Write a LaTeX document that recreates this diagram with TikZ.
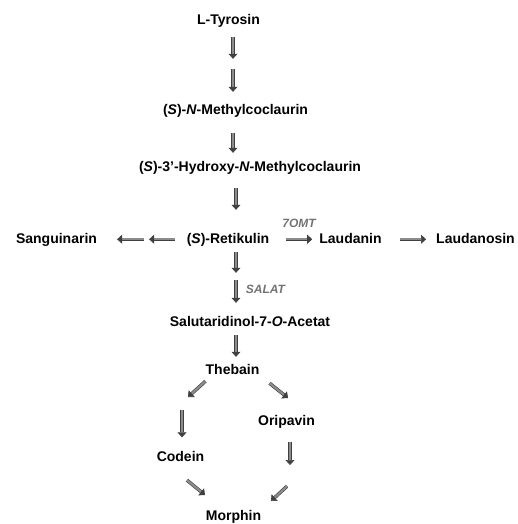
\documentclass[tikz,border=0pt]{standalone}
\usepackage{fontspec}
\setmainfont{Liberation Sans}
\usetikzlibrary{arrows.meta,calc}

\begin{document}
\begin{tikzpicture}[
    x=1pt, y=-1pt,
    compound/.style = {font=\fontsize{14}{16}\selectfont\bfseries, inner sep=0pt, anchor=base, text height=10.5pt, text depth=3pt},
    enzyme/.style = {font=\fontsize{12}{14}\selectfont\bfseries\itshape, text=black!55, inner sep=0pt},
    reaction/.style = {draw=black!75, line width=.6pt, double=black!45, double distance=2.2pt, -{Triangle[length=5pt,width=9pt]}}
    ]
    \useasboundingbox (0,0) rectangle (518,524);

    \node[compound] (tyrosin) at (228.5,25) {L-Tyrosin};
    \node[compound] (nmc) at (235.5,114) {(\textit{S})-\textit{N}-Methylcoclaurin};
    \node[compound] (hnmc) at (250,171) {(\textit{S})-3'-Hydroxy-\textit{N}-Methylcoclaurin};
    \node[compound] (retikulin) at (228,243) {(\textit{S})-Retikulin};
    \node[compound] (sanguinarin) at (56.5,243) {Sanguinarin};
    \node[compound] (laudanin) at (350.5,243) {Laudanin};
    \node[compound] (laudanosin) at (475.5,243) {Laudanosin};
    \node[compound] (acetat) at (250,326) {Salutaridinol-7-\textit{O}-Acetat};
    \node[compound] (thebain) at (232.5,374) {Thebain};
    \node[compound] (oripavin) at (286.5,425) {Oripavin};
    \node[compound] (codein) at (180.5,461) {Codein};
    \node[compound] (morphin) at (233.5,520.5) {Morphin};
    \node[enzyme] (omt) at (299,223) {7OMT};
    \node[enzyme] (salat) at (265.5,289) {SALAT};

    \coordinate (upper) at (233,0);
    \coordinate (lower) at (236,0);
    \coordinate (tc) at (188,397);
    \coordinate (cv) at (182,410);
    \coordinate (thori) at (288,398);
    \coordinate (ov) at (290,465);
    \coordinate (cm) at (205,495);
    \coordinate (om) at (271,501);

    % main path
    \draw[reaction, shorten <=9pt, shorten >=44.5pt] (tyrosin.south -| upper) -- (nmc.north -| upper);
    \draw[reaction, shorten <=41pt, shorten >=11.5pt] (tyrosin.south -| upper) -- (nmc.north -| upper);
    \draw[reaction, shorten <=16pt, shorten >=7.5pt] (nmc.south -| upper) -- (hnmc.north -| upper);
    \draw[reaction, shorten <=14pt, shorten >=22.5pt] (hnmc.south -| lower) -- (retikulin.north -| lower);
    \draw[reaction, shorten <=6pt, shorten >=42.5pt] (retikulin.south -| lower) -- (acetat.north -| lower);
    \draw[reaction, shorten <=34pt, shorten >=12.5pt] (retikulin.south -| lower) -- (acetat.north -| lower);
    \draw[reaction, shorten <=6pt, shorten >=6.5pt] (acetat.south -| lower) -- (thebain.north -| lower);

    % side branches
    \draw[reaction, shorten <=12pt, shorten >=52pt] (retikulin.west) -- (sanguinarin.east);
    \draw[reaction, shorten <=43pt, shorten >=20pt] (retikulin.west) -- (sanguinarin.east);
    \draw[reaction, shorten <=17pt, shorten >=7pt] (retikulin.east) -- (laudanin.west);
    \draw[reaction, shorten <=18pt, shorten >=10pt] (laudanin.east) -- (laudanosin.west);

    % thebain to morphin
    \draw[reaction] (thebain.south west) ++(0,4) -- (tc);
    \draw[reaction, shorten >=13pt] (cv) -- (codein.north -| cv);
    \draw[reaction] (thebain.south east) ++(10,6) -- (thori);
    \draw[reaction, shorten <=14pt] (oripavin.south -| ov) -- (ov);
    \draw[reaction] (codein.south) ++(6.5,16) -- (cm);
    \draw[reaction] (oripavin.south) ++(0.5,58) -- (om);
\end{tikzpicture}
\end{document}
